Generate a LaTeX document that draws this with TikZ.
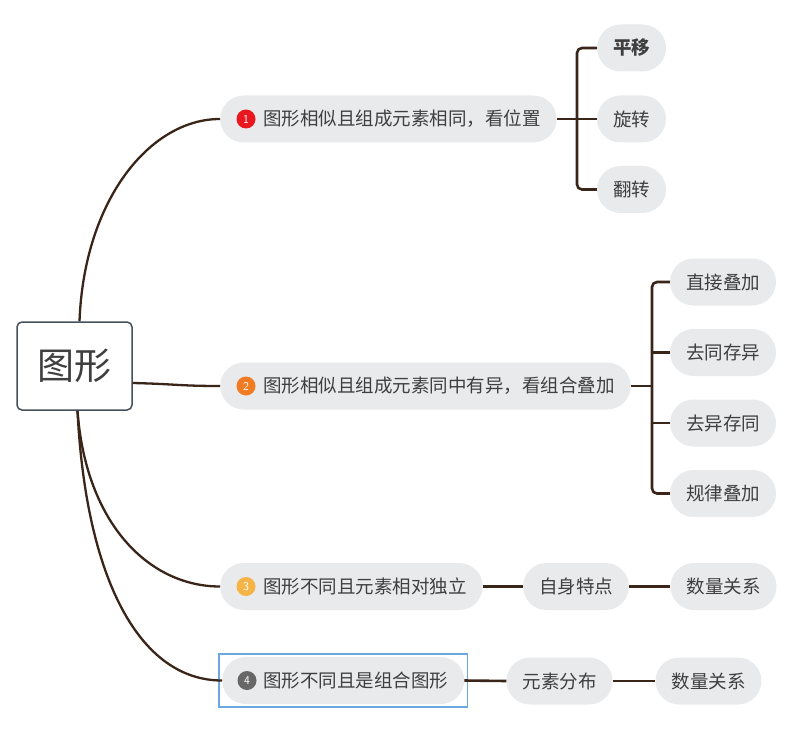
\documentclass[tikz,border=0pt]{standalone}
\usepackage{fontspec}
\newfontfamily\cjk{Noto Sans CJK SC}
\usetikzlibrary{calc,fit,positioning}

\definecolor{limbbrown}{HTML}{3A2519}
\definecolor{pillgray}{HTML}{E9EAEC}
\definecolor{inkgray}{HTML}{3F3F3F}
\definecolor{rootedge}{HTML}{46505A}
\definecolor{badgeA}{HTML}{E8181E}
\definecolor{badgeB}{HTML}{F07B22}
\definecolor{badgeC}{HTML}{F5B447}
\definecolor{badgeD}{HTML}{676767}
\definecolor{selblue}{HTML}{6AA8E0}

\tikzset{
	pill/.style={fill=pillgray, rounded corners=23.5pt, minimum height=47pt, inner xsep=16pt,
		text=inkgray, font=\cjk\fontsize{18.5}{20}\selectfont},
	badge/.style={circle, fill=#1, text=white, inner sep=0pt, minimum size=19pt,
		font=\sffamily\fontsize{12}{12}\selectfont},
	limb/.style={draw=limbbrown, line width=2.3pt},
	bracket/.style={draw=limbbrown, line width=2.6pt, rounded corners=5pt}
}

\begin{document}
\begin{tikzpicture}[x=1pt,y=-1pt]
	\useasboundingbox (0,0) rectangle (810,735);

	% root
	\node[draw=rootedge, line width=1.5pt, fill=white, rounded corners=5pt, minimum width=115pt,
	minimum height=88pt, text=inkgray, font=\cjk\fontsize{37}{40}\selectfont] (root) at (74.5,366) {图形};

	% main branches
	\node[pill, anchor=west] (b1) at (220,119) {\hspace{27pt}图形相似且组成元素相同，看位置};
	\node[pill, anchor=west] (b2) at (220,386) {\hspace{27pt}图形相似且组成元素同中有异，看组合叠加};
	\node[pill, anchor=west] (b3) at (220,586.5) {\hspace{27pt}图形不同且元素相对独立};
	\node[pill, anchor=west] (b4) at (222,680.5) {\hspace{25pt}图形不同且是组合图形};
	\node[badge=badgeA] (n1) at ([xshift=26pt]b1.west) {1};
	\node[badge=badgeB] (n2) at ([xshift=26pt]b2.west) {2};
	\node[badge=badgeC] (n3) at ([xshift=26pt]b3.west) {3};
	\node[badge=badgeD] (n4) at ([xshift=25pt]b4.west) {4};
	\node[draw=selblue, line width=1.5pt, fit=(b4), inner sep=3pt] (sel) {};

	% leaves
	\node[pill, font=\cjk\bfseries\fontsize{18.5}{20}\selectfont] (l1a) at (631.5,48) {平移};
	\node[pill] (l1b) at (631.5,119) {旋转};
	\node[pill] (l1c) at (631.5,189.5) {翻转};
	\node[pill] (l2a) at (723,282) {直接叠加};
	\node[pill] (l2b) at (723,352.5) {去同存异};
	\node[pill] (l2c) at (723,423) {去异存同};
	\node[pill] (l2d) at (723,493.5) {规律叠加};
	\node[pill] (l3a) at (576,586.5) {自身特点};
	\node[pill] (l3b) at (723.5,586.5) {数量关系};
	\node[pill] (l4a) at (559.5,681) {元素分布};
	\node[pill] (l4b) at (708.5,681) {数量关系};

	% curves from root
	\draw[limb] ([xshift=5pt]root.north) .. controls (84,200) and (150,119) .. (b1.west);
	\draw[limb] ([yshift=-17pt]root.east) .. controls (175,384) and (180,386) .. (b2.west);
	\draw[limb] ([xshift=3pt]root.south) .. controls (86,525) and (150,586.5) .. (b3.west);
	\draw[limb] ([xshift=3pt]root.south) .. controls (86,580) and (140,680.5) .. (b4.west);

	% brackets
	\coordinate (j1) at (577,119);
	\draw[bracket] (b1.east) -- (j1) -- (l1b.west);
	\draw[bracket] (l1a.west) -| (j1) |- (l1c.west);
	\coordinate (j2) at (652,386);
	\draw[bracket] (b2.east) -- (j2);
	\draw[bracket] (l2a.west) -| (j2) |- (l2d.west);
	\draw[bracket] (l2b.west -| j2) -- (l2b.west);
	\draw[bracket] (l2c.west -| j2) -- (l2c.west);

	% chains
	\draw[bracket] (b3.east) -- (l3a.west);
	\draw[bracket] (l3a.east) -- (l3b.west);
	\draw[bracket] (b4.east) -- (l4a.west);
	\draw[bracket] (l4a.east) -- (l4b.west);
\end{tikzpicture}
\end{document}
